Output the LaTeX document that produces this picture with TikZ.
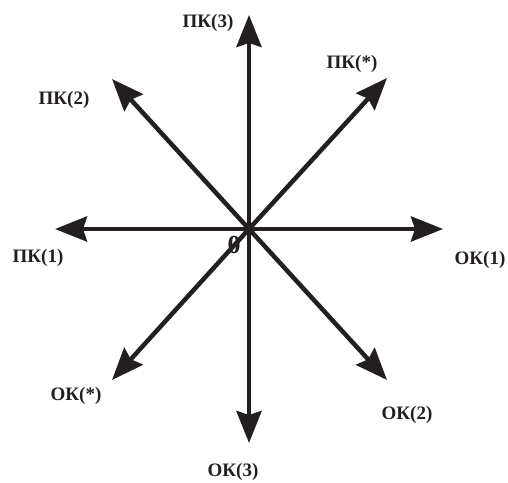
\documentclass[tikz,border=0pt]{standalone}
\usepackage{fontspec}
\setmainfont{Liberation Serif}
\usetikzlibrary{arrows.meta}
\definecolor{inkblack}{RGB}{35,31,32}

\begin{document}
\begin{tikzpicture}[x=1pt, y=-1pt,
    axis/.style={-{Stealth[length=32pt, width=25pt, inset=4pt]}, line width=4.5pt, draw=inkblack},
    lbl/.style={font=\fontsize{19}{21}\selectfont\bfseries, text=inkblack, inner sep=0pt}]

\useasboundingbox (0,0) rectangle (508,482);

% centre and arrow tips
\coordinate (o) at (249,229);
\coordinate (pk3) at (249,15);
\coordinate (ok3) at (249,443);
\coordinate (pk1) at (55,229);
\coordinate (ok1) at (443,229);
\coordinate (pkstar) at (387,78);
\coordinate (pk2) at (112,79);
\coordinate (okstar) at (112,380);
\coordinate (ok2) at (387,380);

\draw [axis] (o) -- (pk3);
\draw [axis] (o) -- (ok3);
\draw [axis] (o) -- (pk1);
\draw [axis] (o) -- (ok1);
\draw [axis] (o) -- (pkstar);
\draw [axis] (o) -- (pk2);
\draw [axis] (o) -- (okstar);
\draw [axis] (o) -- (ok2);

% labels
\node [lbl] (lpk3) at (208,23) {ПК(3)};
\node [lbl] (lpkstar) at (352,64) {ПК(*)};
\node [lbl] (lpk2) at (64,100) {ПК(2)};
\node [lbl] (lpk1) at (38,258) {ПК(1)};
\node [lbl] (lok1) at (480,260) {ОК(1)};
\node [lbl] (lokstar) at (76,396) {ОК(*)};
\node [lbl] (lok2) at (407,415) {ОК(2)};
\node [lbl] (lok3) at (233,472) {ОК(3)};
\node [lbl, font=\fontsize{26}{28}\selectfont\bfseries] (zero) at (234,245) {0};

\end{tikzpicture}
\end{document}
